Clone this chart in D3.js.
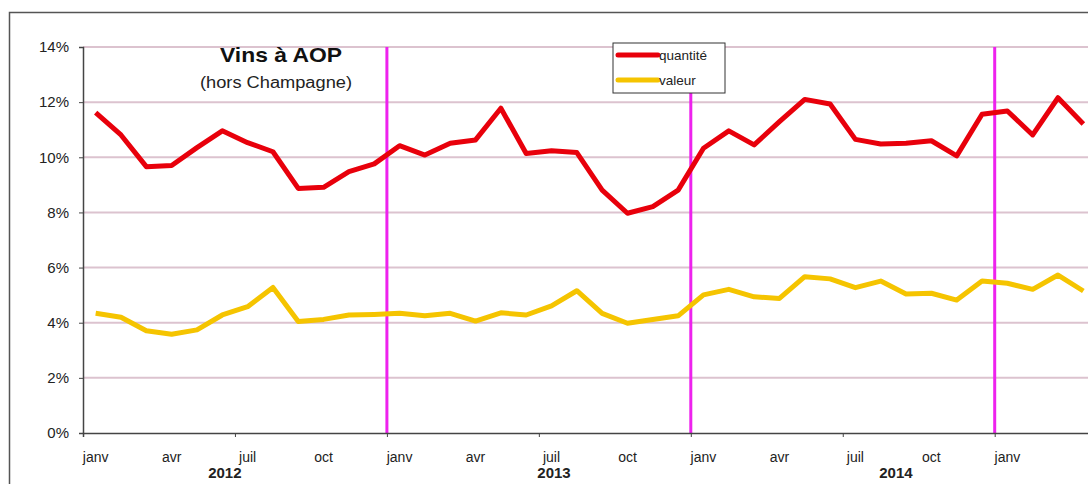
<!DOCTYPE html>
<html>
<head>
<meta charset="utf-8">
<script src="https://cdn.jsdelivr.net/npm/d3@7"></script>
<style>
  body { margin: 0; background: #fff; }
  svg { display: block; font-family: "Liberation Sans", Arial, sans-serif; }
</style>
</head>
<body>
<script>
var years = ["2012", "2013", "2014", "2015"];
var monthNames = ["janv", "févr", "mars", "avr", "mai", "juin", "juil", "août", "sept", "oct", "nov", "déc"];
var shownMonths = ["janv", "avr", "juil", "oct"];
// position of each year label, in months from the start of the series
var yearLabelAt = [5.6, 18.6, 32.1];

var quantite = [11.62, 10.81, 9.66, 9.70, 10.35, 10.96, 10.53, 10.20, 8.87, 8.91, 9.48, 9.76,
                10.42, 10.08, 10.51, 10.63, 11.78, 10.14, 10.24, 10.17, 8.81, 7.97, 8.21, 8.81,
                10.33, 10.96, 10.45, 11.29, 12.10, 11.93, 10.65, 10.48, 10.51, 10.60, 10.05, 11.56,
                11.68, 10.81, 12.16, 11.21];
var valeur = [4.34, 4.20, 3.71, 3.58, 3.74, 4.28, 4.58, 5.28, 4.04, 4.12, 4.28, 4.30,
              4.34, 4.25, 4.34, 4.06, 4.36, 4.28, 4.61, 5.16, 4.34, 3.98, 4.12, 4.25,
              5.01, 5.21, 4.94, 4.88, 5.67, 5.59, 5.27, 5.51, 5.04, 5.07, 4.82, 5.51,
              5.43, 5.21, 5.73, 5.15];
var yTicks = [0, 2, 4, 6, 8, 10, 12, 14];

var width = 1088;
var height = 484;
var plotLeft = 83, plotRight = 1096, plotTop = 47, plotBottom = 433;

// one category per month
var months = [];
for (var i = 0; i < quantite.length; i++) {
    months.push({
        idx: i,
        year: years[Math.floor(i / 12)],
        name: monthNames[i % 12]
    });
}

var svg = d3.select("body").append("svg")
            .attr("width", width)
            .attr("height", height);

// outer frame
svg.append("rect")
   .attr("x", 9.5).attr("y", 12.5)
   .attr("width", 1200).attr("height", 600)
   .attr("fill", "none")
   .attr("stroke", "#555")
   .attr("stroke-width", 1.5);

var xScale = d3.scaleLinear()
               .domain([0, months.length])
               .range([plotLeft, plotRight]);
var yScale = d3.scaleLinear()
               .domain([0, 14])
               .range([plotBottom, plotTop]);
var xMid = function(d) { return xScale(d.idx + 0.5); };

// grid lines
svg.append("g").selectAll("line")
   .data(yTicks.filter(function(t) { return t > 0; }))
   .enter().append("line")
   .attr("x1", plotLeft).attr("x2", width)
   .attr("y1", function(d) { return yScale(d); })
   .attr("y2", function(d) { return yScale(d); })
   .attr("stroke", "#dcc3cf")
   .attr("stroke-width", 2);

// y axis
var yAxis = d3.axisLeft(yScale)
              .tickValues(yTicks)
              .tickSize(4)
              .tickPadding(10)
              .tickFormat(function(d) { return d + "%"; });
var gy = svg.append("g")
   .attr("transform", "translate(" + plotLeft + ",0)")
   .call(yAxis);
gy.select(".domain").attr("stroke", "#444").attr("stroke-width", 1.5);
gy.selectAll(".tick line").attr("stroke", "#444");
gy.selectAll("text").attr("font-size", 15).attr("fill", "#222")
  .attr("font-family", "'Liberation Sans', Arial, sans-serif");

// year separators
var yearStarts = months.filter(function(d) { return d.idx > 0 && d.idx % 12 === 0; });
svg.append("g").selectAll("line")
   .data(yearStarts)
   .enter().append("line")
   .attr("x1", function(d) { return xScale(d.idx); })
   .attr("x2", function(d) { return xScale(d.idx); })
   .attr("y1", plotTop).attr("y2", plotBottom)
   .attr("stroke", "#ee22ee")
   .attr("stroke-width", 3);

// x axis
var halfYears = months.filter(function(d) { return d.idx > 0 && d.idx % 6 === 0; });
var xAxis = d3.axisBottom(xScale)
              .tickValues(halfYears.map(function(d) { return d.idx; }))
              .tickSize(4)
              .tickFormat("");
var gx = svg.append("g")
   .attr("transform", "translate(0," + plotBottom + ")")
   .call(xAxis);
gx.select(".domain").attr("stroke", "#444").attr("stroke-width", 1.5);
gx.selectAll(".tick line").attr("stroke", "#444");

// month labels
svg.append("g").selectAll("text")
   .data(months.filter(function(d) { return shownMonths.indexOf(d.name) >= 0 && d.idx < months.length - 1; }))
   .enter().append("text")
   .attr("x", xMid)
   .attr("y", 462)
   .attr("text-anchor", "middle")
   .attr("font-size", 14)
   .attr("fill", "#222")
   .text(function(d) { return d.name; });

// year labels
svg.append("g").selectAll("text")
   .data(yearLabelAt)
   .enter().append("text")
   .attr("x", function(d) { return xScale(d); })
   .attr("y", 478)
   .attr("text-anchor", "middle")
   .attr("font-size", 15)
   .attr("font-weight", "bold")
   .attr("fill", "#222")
   .text(function(d, i) { return years[i]; });

// lines
var line = function(values) {
    return d3.line()
             .x(function(d, i) { return xScale(i + 0.5); })
             .y(function(d) { return yScale(d); })(values);
};
svg.append("path")
   .attr("d", line(valeur))
   .attr("fill", "none")
   .attr("stroke", "#f5c400")
   .attr("stroke-width", 5)
   .attr("stroke-linejoin", "round");
svg.append("path")
   .attr("d", line(quantite))
   .attr("fill", "none")
   .attr("stroke", "#e8000b")
   .attr("stroke-width", 5)
   .attr("stroke-linejoin", "round");

// title
svg.append("text")
   .attr("x", 220).attr("y", 62)
   .attr("font-size", 21)
   .attr("font-weight", "bold")
   .attr("fill", "#111")
   .attr("textLength", 122)
   .attr("lengthAdjust", "spacingAndGlyphs")
   .text("Vins à AOP");
svg.append("text")
   .attr("x", 200).attr("y", 88)
   .attr("font-size", 16)
   .attr("fill", "#222")
   .attr("textLength", 152)
   .attr("lengthAdjust", "spacingAndGlyphs")
   .text("(hors Champagne)");

// legend
var legend = svg.append("g").attr("transform", "translate(613,43)");
legend.append("rect")
   .attr("width", 112).attr("height", 50)
   .attr("fill", "#fff")
   .attr("stroke", "#333")
   .attr("stroke-width", 1);
var legendItems = [{ name: "quantité", color: "#e8000b" }, { name: "valeur", color: "#f5c400" }];
legendItems.forEach(function(d, i) {
    legend.append("line")
          .attr("x1", 5).attr("x2", 45)
          .attr("y1", 12 + i * 25).attr("y2", 12 + i * 25)
          .attr("stroke", d.color)
          .attr("stroke-width", 5)
          .attr("stroke-linecap", "round");
    legend.append("text")
          .attr("x", 46).attr("y", 17 + i * 25)
          .attr("font-size", 13.5)
          .attr("fill", "#222")
          .text(d.name);
});
</script>
</body>
</html>
